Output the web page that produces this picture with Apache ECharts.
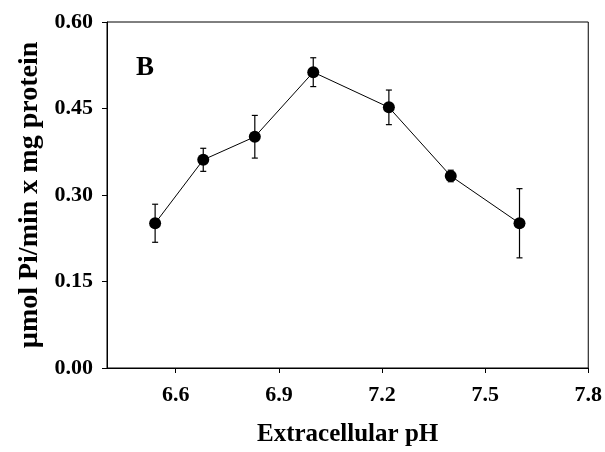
<!DOCTYPE html>
<html>
<head>
<meta charset="utf-8">
<script src="https://cdn.jsdelivr.net/npm/echarts@6/dist/echarts.min.js"></script>
<style>
html,body{margin:0;padding:0;background:#fff;}
#main{width:605px;height:452px;}
</style>
</head>
<body>
<div id="main"></div>
<script>
var phValues = [6.54, 6.68, 6.83, 7.00, 7.22, 7.40, 7.60];
var activity = [0.251, 0.361, 0.401, 0.513, 0.452, 0.333, 0.251];
var errors = [0.033, 0.020, 0.037, 0.025, 0.030, 0.010, 0.060];
var xTicks = [6.6, 6.9, 7.2, 7.5, 7.8];
var yTicks = [0, 0.15, 0.30, 0.45, 0.60];
var panelLabel = 'B';
var xTitle = 'Extracellular pH';
var yTitle = '\u00b5mol Pi/min x mg protein';

var FONT = '"Liberation Serif", "Times New Roman", serif';
var points = phValues.map(function (x, i) { return [x, activity[i]]; });
var errData = phValues.map(function (x, i) { return [x, activity[i] - errors[i], activity[i] + errors[i]]; });

var chart = echarts.init(document.getElementById('main'));
chart.setOption({
  animation: false,
  backgroundColor: '#fff',
  grid: { left: 107, right: 15, top: 22, bottom: 83, show: true, borderColor: '#000', borderWidth: 1, backgroundColor: 'transparent' },
  graphic: [{
    type: 'text', left: 136, top: 55,
    style: { text: panelLabel, font: 'bold 27px ' + FONT, fill: '#000' }
  }],
  xAxis: {
    type: 'value', min: 6.4, max: 7.8,
    name: xTitle, nameLocation: 'middle', nameGap: 54,
    nameTextStyle: { fontFamily: FONT, fontWeight: 'bold', fontSize: 25, color: '#000' },
    axisLine: { lineStyle: { color: '#000', width: 1 } },
    axisTick: { show: true, inside: false, length: 5, lineStyle: { color: '#000' }, customValues: xTicks },
    axisLabel: { customValues: xTicks, margin: 16, fontFamily: FONT, fontWeight: 'bold', fontSize: 22, color: '#000',
      formatter: function (v) { return v.toFixed(1); } },
    splitLine: { show: false }
  },
  yAxis: {
    type: 'value', min: 0, max: 0.6, interval: 0.15,
    name: yTitle, nameLocation: 'middle', nameGap: 63, nameRotate: 90,
    nameTextStyle: { fontFamily: FONT, fontWeight: 'bold', fontSize: 28, color: '#000' },
    axisLine: { show: true, lineStyle: { color: '#000', width: 1 } },
    axisTick: { show: true, inside: false, length: 5, lineStyle: { color: '#000' } },
    axisLabel: { margin: 14, fontFamily: FONT, fontWeight: 'bold', fontSize: 22, color: '#000',
      formatter: function (v) { return v.toFixed(2); } },
    splitLine: { show: false }
  },
  series: [{
    type: 'custom',
    data: errData,
    z: 3,
    renderItem: function (params, api) {
      var x = api.value(0);
      var lo = api.coord([x, api.value(1)]);
      var hi = api.coord([x, api.value(2)]);
      var cw = 3;
      var st = { stroke: '#000', lineWidth: 1.2 };
      return { type: 'group', children: [
        { type: 'line', shape: { x1: lo[0], y1: lo[1], x2: hi[0], y2: hi[1] }, style: st },
        { type: 'line', shape: { x1: lo[0] - cw, y1: lo[1], x2: lo[0] + cw, y2: lo[1] }, style: st },
        { type: 'line', shape: { x1: hi[0] - cw, y1: hi[1], x2: hi[0] + cw, y2: hi[1] }, style: st }
      ]};
    }
  }, {
    type: 'line',
    data: points,
    z: 4,
    symbol: 'circle', symbolSize: 12,
    lineStyle: { color: '#000', width: 1 },
    itemStyle: { color: '#000' }
  }]
});
</script>
</body>
</html>
